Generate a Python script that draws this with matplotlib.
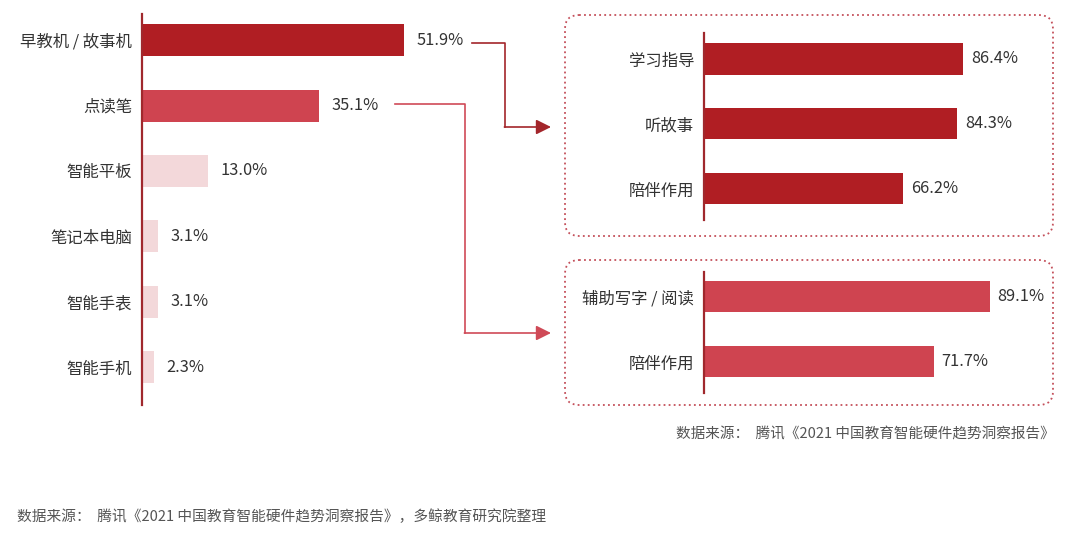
import matplotlib
matplotlib.use("Agg")
import matplotlib.pyplot as plt
from matplotlib.patches import FancyBboxPatch

plt.rcParams['font.family'] = ['Noto Sans CJK SC', 'DejaVu Sans']

# ---- data ----
main_cats = ["早教机 / 故事机", "点读笔", "智能平板", "笔记本电脑", "智能手表", "智能手机"]
main_vals = [51.9, 35.1, 13.0, 3.1, 3.1, 2.3]

story_cats = ["学习指导", "听故事", "陪伴作用"]
story_vals = [86.4, 84.3, 66.2]

pen_cats = ["辅助写字 / 阅读", "陪伴作用"]
pen_vals = [89.1, 71.7]

source_right = "数据来源：  腾讯《2021 中国教育智能硬件趋势洞察报告》"
source_bottom = "数据来源：  腾讯《2021 中国教育智能硬件趋势洞察报告》，多鲸教育研究院整理"

DARK = "#B01E23"
MID = "#CF4450"
LIGHT = "#F3D8DA"
AXIS = "#A0282D"
TXT = "#333333"
GREY = "#555555"

W, H = 1080, 537
fig = plt.figure(figsize=(W / 100, H / 100), dpi=100)
fig.patch.set_facecolor("white")


def px_axes(x0, y0, x1, y1):
    return fig.add_axes([x0 / W, 1 - y1 / H, (x1 - x0) / W, (y1 - y0) / H])


def style(ax):
    for s in ["top", "right", "bottom"]:
        ax.spines[s].set_visible(False)
    ax.spines["left"].set_color(AXIS)
    ax.spines["left"].set_linewidth(1.6)
    ax.set_xticks([])
    ax.tick_params(axis="y", length=0, pad=7, labelsize=11.8, labelcolor=TXT)
    ax.patch.set_alpha(0)


def value_labels(ax, vals, gap=9):
    for i, v in enumerate(vals):
        ax.annotate(f"{v:.1f}%", (v, i), xytext=(gap, 0), textcoords="offset points",
                    va="center", ha="left", fontsize=11.8, color=TXT,
                    annotation_clip=False)


# ---- left main chart ----
axL = px_axes(142, 14, 445, 405)
colors_main = [DARK, MID, LIGHT, LIGHT, LIGHT, LIGHT]
axL.barh(range(len(main_cats)), main_vals, height=0.49, color=colors_main)
axL.set_xlim(0, 60)
axL.set_ylim(5.58, -0.4)
axL.set_yticks(range(len(main_cats)))
axL.set_yticklabels(main_cats)
style(axL)
value_labels(axL, main_vals)

# ---- right top chart ----
axT = px_axes(704, 33, 1004, 220)
axT.barh(range(len(story_cats)), story_vals, height=0.48, color=DARK)
axT.set_xlim(0, 100)
axT.set_ylim(2.48, -0.4)
axT.set_yticks(range(len(story_cats)))
axT.set_yticklabels(story_cats)
style(axT)
value_labels(axT, story_vals, gap=6)

# ---- right bottom chart ----
axB = px_axes(704, 272, 1004, 393)
axB.barh(range(len(pen_cats)), pen_vals, height=0.48, color=MID)
axB.set_xlim(0, 93.5)
axB.set_ylim(1.48, -0.38)
axB.set_yticks(range(len(pen_cats)))
axB.set_yticklabels(pen_cats)
style(axB)
value_labels(axB, pen_vals, gap=5)

# ---- overlay for boxes, connectors, notes ----
ov = fig.add_axes([0, 0, 1, 1])
ov.set_xlim(0, W)
ov.set_ylim(H, 0)
ov.axis("off")
ov.patch.set_alpha(0)

for (x0, y0, x1, y1) in [(565, 15, 1053, 236), (565, 260, 1053, 405)]:
    box = FancyBboxPatch((x0, y0), x1 - x0, y1 - y0,
                         boxstyle="round,pad=0,rounding_size=14",
                         fill=False, edgecolor="#C4505B", linewidth=1.3,
                         linestyle=(0, (1, 1.8)))
    ov.add_patch(box)

# connector 1 (早教机 -> top box)
ov.plot([472, 505, 505], [43, 43, 127], color="#A3262B", lw=1.2)
ov.annotate("", xy=(551, 127), xytext=(504.4, 127),
            arrowprops=dict(arrowstyle="-|>,head_length=0.9,head_width=0.45",
                            color="#A3262B", lw=1.2, shrinkA=0, shrinkB=0))
# connector 2 (点读笔 -> bottom box)
ov.plot([395, 465, 465], [104, 104, 333], color="#CF4A57", lw=1.2)
ov.annotate("", xy=(551, 333), xytext=(464.4, 333),
            arrowprops=dict(arrowstyle="-|>,head_length=0.9,head_width=0.45",
                            color="#CF4A57", lw=1.2, shrinkA=0, shrinkB=0))

ov.text(1055, 434, source_right, ha="right", va="center", fontsize=10.5, color=GREY)
ov.text(17, 517, source_bottom, ha="left", va="center", fontsize=10.6, color=GREY)

fig.savefig("out.png", dpi=100, facecolor="white")
